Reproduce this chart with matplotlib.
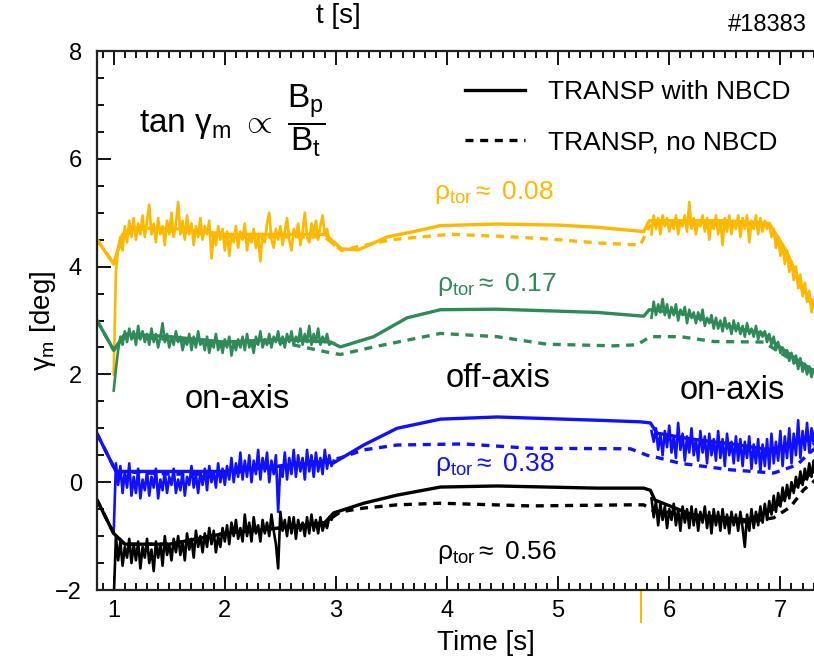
import numpy as np
import matplotlib
matplotlib.use("Agg")
import matplotlib.pyplot as plt

plt.rcParams['font.family'] = ['Liberation Sans', 'DejaVu Sans']
plt.rcParams['mathtext.fontset'] = 'custom'
plt.rcParams['mathtext.rm'] = 'Liberation Sans'
plt.rcParams['mathtext.it'] = 'Liberation Sans'
plt.rcParams['mathtext.sf'] = 'Liberation Sans'

ORANGE = '#ffb800'
GREEN = '#2e8b57'
BLUE = '#1010ff'
BLACK = '#000000'

# ---- TRANSP curves (smooth), time in s, gamma_m in deg ----
or_t = [0.85, 1.0, 1.08, 1.2, 1.6, 2.0, 2.5, 2.9, 3.05, 3.2, 3.46, 3.7, 3.94, 4.45, 5.0, 5.35, 5.77, 5.82, 5.9, 6.5, 6.9, 7.05, 7.2, 7.35]
or_nbcd = [4.5, 4.05, 4.6, 4.72, 4.7, 4.6, 4.6, 4.6, 4.33, 4.31, 4.55, 4.65, 4.76, 4.79, 4.77, 4.73, 4.65, 4.85, 4.85, 4.85, 4.8, 4.3, 3.6, 3.15]
or_td = [0.85, 1.0, 1.08, 1.2, 1.6, 2.0, 2.5, 2.9, 3.05, 3.2, 3.5, 4.03, 4.6, 5.0, 5.35, 5.74, 5.82, 5.9, 6.5, 6.9, 7.05, 7.2, 7.35]
or_nonbcd = [4.5, 4.05, 4.55, 4.7, 4.65, 4.55, 4.55, 4.55, 4.3, 4.37, 4.5, 4.6, 4.55, 4.5, 4.44, 4.4, 4.75, 4.8, 4.8, 4.75, 4.25, 3.55, 3.1]

gr_t = [0.85, 1.0, 1.1, 1.5, 2.0, 2.5, 2.95, 3.04, 3.34, 3.64, 3.94, 4.45, 5.35, 5.77, 5.82, 6.1, 6.55, 6.85, 7.0, 7.2, 7.35]
gr_nbcd = [3.0, 2.45, 2.75, 2.7, 2.6, 2.65, 2.6, 2.51, 2.7, 3.05, 3.2, 3.21, 3.15, 3.08, 3.2, 3.14, 2.88, 2.76, 2.5, 2.2, 2.0]
gr_td = [0.85, 1.0, 1.1, 1.5, 2.0, 2.5, 2.95, 3.04, 3.34, 3.94, 4.45, 4.9, 5.5, 5.71, 5.83, 6.1, 6.4, 6.85, 7.0, 7.2, 7.35]
gr_nonbcd = [3.0, 2.45, 2.7, 2.65, 2.55, 2.6, 2.4, 2.37, 2.51, 2.76, 2.7, 2.56, 2.53, 2.55, 2.7, 2.7, 2.61, 2.6, 2.4, 2.15, 1.95]

bl_t = [0.85, 1.02, 1.5, 2.0, 2.5, 2.9, 2.98, 3.25, 3.55, 3.94, 4.45, 5.35, 5.74, 5.83, 5.89, 6.2, 6.6, 6.9, 7.2, 7.35]
bl_nbcd = [0.9, 0.2, 0.2, 0.2, 0.3, 0.38, 0.36, 0.69, 1.0, 1.17, 1.21, 1.15, 1.12, 1.1, 0.91, 0.8, 0.7, 0.6, 0.75, 0.85]
bl_td = [0.85, 1.02, 1.5, 2.0, 2.5, 2.9, 3.04, 3.25, 3.55, 4.15, 4.75, 5.65, 5.8, 5.87, 6.1, 6.55, 6.94, 7.15, 7.24, 7.35]
bl_nonbcd = [0.9, 0.2, 0.15, 0.15, 0.3, 0.4, 0.45, 0.6, 0.69, 0.71, 0.63, 0.62, 0.5, 0.47, 0.35, 0.23, 0.17, 0.32, 0.5, 0.7]

bk_t = [0.85, 1.0, 1.1, 1.5, 2.0, 2.5, 2.9, 2.98, 3.25, 3.55, 3.94, 4.45, 5.35, 5.77, 5.83, 5.87, 6.2, 6.7, 6.94, 7.09, 7.24, 7.35]
bk_nbcd = [-0.33, -0.95, -1.15, -1.15, -0.95, -0.85, -0.75, -0.57, -0.39, -0.24, -0.09, -0.07, -0.11, -0.11, -0.15, -0.33, -0.6, -0.7, -0.5, -0.15, 0.1, 0.3]
bk_td = [0.85, 1.0, 1.1, 1.5, 2.0, 2.5, 2.9, 3.04, 3.25, 3.55, 3.94, 4.75, 5.65, 5.77, 5.85, 6.26, 6.7, 6.94, 7.09, 7.21, 7.35]
bk_nonbcd = [-0.33, -0.95, -1.15, -1.15, -0.95, -0.85, -0.75, -0.55, -0.48, -0.42, -0.39, -0.44, -0.42, -0.42, -0.52, -0.63, -0.74, -0.66, -0.46, -0.14, 0.1]

# ---- noisy traces during the on-axis phases (20 ms steps) ----
t_on1 = np.linspace(1.0, 2.98, 100)
t_on2 = np.linspace(5.84, 7.32, 75)

or_on1 = [2.0, 3.9, 4.35, 4.55, 4.3, 4.75, 4.45, 4.85, 4.55, 4.9,
          4.5, 4.8, 4.6, 4.95, 4.55, 4.85, 5.15, 4.6, 4.8, 4.45,
          4.9, 4.6, 4.75, 4.4, 4.85, 4.6, 5.0, 4.55, 4.8, 5.2,
          4.6, 4.85, 4.5, 4.95, 4.6, 4.8, 4.4, 4.75, 4.55, 4.9,
          4.5, 4.75, 4.6, 4.85, 4.15, 4.6, 4.4, 4.75, 4.5, 4.7,
          4.3, 4.65, 4.2, 4.6, 4.45, 4.75, 4.35, 4.65, 4.5, 4.8,
          4.3, 4.6, 4.45, 4.7, 4.35, 4.55, 4.1, 4.6, 4.45, 4.8,
          5.0, 4.5, 4.35, 4.7, 4.5, 4.75, 4.4, 4.65, 4.9, 4.5,
          4.3, 4.7, 4.55, 4.8, 4.4, 4.65, 5.0, 4.55, 4.45, 4.8,
          4.6, 4.85, 4.5, 4.75, 4.95, 4.6, 4.7, 4.5, 4.45, 4.4]
gr_on1 = [1.7, 2.1, 2.45, 2.7, 2.55, 2.8, 2.6, 2.85, 2.65, 2.8,
          2.55, 2.9, 2.65, 2.8, 2.6, 2.75, 2.55, 2.85, 2.6, 2.75,
          2.5, 2.7, 2.95, 2.6, 2.75, 2.5, 2.7, 2.55, 2.8, 2.6,
          2.7, 2.45, 2.65, 2.55, 2.75, 2.45, 2.7, 2.5, 2.8, 2.55,
          2.65, 2.45, 2.7, 2.4, 2.6, 2.5, 2.75, 2.45, 2.6, 2.4,
          2.65, 2.5, 2.7, 2.35, 2.6, 2.45, 2.65, 2.5, 2.7, 2.45,
          2.75, 2.5, 2.6, 2.4, 2.7, 2.55, 2.8, 2.5, 2.65, 2.55,
          2.75, 2.5, 2.7, 2.6, 2.8, 2.55, 2.7, 2.5, 2.75, 2.6,
          2.8, 2.55, 2.7, 2.6, 2.85, 2.55, 2.75, 2.6, 2.9, 2.55,
          2.75, 2.6, 2.85, 2.55, 2.7, 2.6, 2.75, 2.55, 2.6, 2.58]
bl_on1 = [-0.95, 0.35, -0.05, 0.3, -0.2, 0.2, -0.1, 0.35, -0.25, 0.1,
          -0.2, 0.25, -0.3, 0.05, -0.15, 0.2, -0.25, 0.1, -0.1, 0.25,
          -0.3, 0.05, -0.15, 0.2, -0.2, 0.1, -0.05, 0.25, -0.2, 0.05,
          -0.15, 0.2, -0.25, 0.1, -0.05, 0.3, -0.1, 0.15, -0.2, 0.2,
          -0.05, 0.25, -0.15, 0.3, 0.0, 0.2, -0.1, 0.35, 0.0, 0.25,
          -0.05, 0.3, 0.05, 0.45, 0.0, 0.35, 0.1, 0.55, 0.05, 0.4,
          0.1, 0.5, 0.0, 0.4, 0.15, 0.6, 0.05, 0.45, 0.2, 0.55,
          0.0, 0.4, 0.15, 0.5, -0.55, 0.3, 0.1, 0.55, 0.05, 0.45,
          0.15, 0.6, 0.1, 0.5, 0.2, 0.45, 0.05, 0.6, 0.2, 0.5,
          0.1, 0.55, 0.2, 0.45, 0.15, 0.6, 0.25, 0.5, 0.3, 0.4]
bk_on1 = [-2.2, -1.0, -1.45, -1.1, -1.55, -1.2, -1.4, -1.05, -1.5, -1.15,
          -1.45, -1.1, -1.6, -1.2, -1.4, -1.05, -1.5, -1.25, -1.65, -1.1,
          -1.4, -1.15, -1.55, -1.0, -1.35, -1.15, -1.45, -1.05, -1.3, -1.0,
          -1.35, -1.1, -1.45, -0.95, -1.25, -1.05, -1.4, -0.9, -1.2, -1.0,
          -1.3, -0.95, -1.2, -0.85, -1.15, -0.9, -1.3, -1.0, -1.2, -0.85,
          -1.1, -0.8, -1.15, -0.75, -1.0, -0.7, -1.05, -0.85, -1.1, -0.6,
          -1.0, -0.75, -1.1, -0.65, -0.95, -0.8, -1.1, -0.7, -0.95, -0.75,
          -1.0, -0.6, -0.9, -1.15, -1.6, -0.55, -0.9, -0.7, -1.0, -0.65,
          -0.95, -0.65, -1.05, -0.7, -0.9, -0.75, -1.0, -0.65, -0.95, -0.6,
          -0.9, -0.7, -0.95, -0.65, -0.9, -0.75, -0.85, -0.65, -0.7, -0.6]

or_on2 = [4.6, 4.95, 4.7, 4.9, 4.6, 4.95, 4.75, 4.9, 4.65, 4.85,
          4.7, 4.95, 4.6, 4.85, 4.75, 4.95, 4.65, 5.2, 4.7, 4.9,
          4.6, 4.85, 4.75, 4.95, 4.65, 4.9, 4.5, 4.85, 4.7, 4.95,
          4.6, 4.85, 4.4, 4.9, 4.65, 4.95, 4.6, 4.85, 4.7, 4.95,
          4.55, 4.9, 4.7, 4.95, 4.45, 4.85, 4.7, 4.95, 4.6, 4.9,
          4.65, 4.85, 4.7, 4.8, 4.55, 4.7, 4.35, 4.55, 4.2, 4.4,
          4.05, 4.3, 3.9, 4.1, 3.75, 4.0, 3.6, 3.85, 3.45, 3.7,
          3.35, 3.55, 3.15, 3.4, 3.1]
gr_on2 = [3.05, 3.35, 3.1, 3.3, 3.15, 3.4, 3.1, 3.3, 3.05, 3.25,
          3.1, 3.3, 3.0, 3.2, 3.1, 3.25, 2.95, 3.2, 3.05, 3.15,
          2.95, 3.15, 3.0, 3.2, 2.9, 3.05, 2.95, 3.1, 2.85, 3.05,
          2.85, 3.0, 2.8, 3.05, 2.85, 2.95, 2.75, 3.0, 2.8, 2.95,
          2.75, 2.9, 2.7, 2.95, 2.75, 2.85, 2.7, 2.9, 2.65, 2.8,
          2.7, 2.8, 2.6, 2.75, 2.55, 2.7, 2.45, 2.6, 2.4, 2.5,
          2.35, 2.45, 2.25, 2.4, 2.2, 2.35, 2.1, 2.3, 2.05, 2.2,
          2.0, 2.15, 1.95, 2.1, 2.0]
bl_on2 = [0.95, 0.75, 1.0, 0.6, 0.9, 0.5, 0.95, 0.65, 1.05, 0.55,
          0.85, 0.45, 1.1, 0.6, 0.9, 0.4, 0.85, 0.55, 1.0, 0.5,
          0.8, 0.4, 0.95, 0.55, 0.85, 0.35, 0.9, 0.5, 0.8, 0.4,
          0.95, 0.45, 0.8, 0.3, 0.9, 0.5, 0.75, 0.35, 0.85, 0.4,
          0.8, 0.3, 0.75, 0.45, 0.85, 0.25, 0.7, 0.35, 0.8, 0.2,
          0.7, 0.3, 0.8, 0.25, 0.9, 0.35, 0.75, 0.4, 0.95, 0.3,
          0.85, 0.45, 1.0, 0.35, 0.9, 0.5, 1.15, 0.45, 0.95, 0.6,
          1.1, 0.55, 1.0, 0.7, 1.15]
bk_on2 = [-0.3, -0.65, -0.35, -0.8, -0.4, -0.7, -0.45, -0.85, -0.5, -0.7,
          -0.4, -0.8, -0.5, -0.9, -0.45, -0.75, -0.5, -0.85, -0.45, -0.8,
          -0.5, -0.9, -0.55, -0.75, -0.45, -0.85, -0.55, -0.95, -0.5, -0.8,
          -0.55, -0.9, -0.5, -0.85, -0.6, -0.95, -0.55, -0.8, -0.6, -0.9,
          -0.55, -0.85, -1.2, -0.6, -0.9, -0.5, -0.85, -0.55, -0.8, -0.45,
          -0.75, -0.4, -0.7, -0.35, -0.6, -0.25, -0.55, -0.2, -0.45, -0.1,
          -0.35, -0.05, -0.3, 0.0, -0.2, 0.1, -0.1, 0.2, -0.05, 0.25,
          0.05, 0.35, 0.1, 0.4, 0.2]

series = [
    (ORANGE, or_t, or_nbcd, or_td, or_nonbcd, or_on1, or_on2),
    (GREEN, gr_t, gr_nbcd, gr_td, gr_nonbcd, gr_on1, gr_on2),
    (BLUE, bl_t, bl_nbcd, bl_td, bl_nonbcd, bl_on1, bl_on2),
    (BLACK, bk_t, bk_nbcd, bk_td, bk_nonbcd, bk_on1, bk_on2),
]

fig = plt.figure(figsize=(8.14, 6.59), dpi=100)
ax = fig.add_axes([0.1192, 0.1047, 0.9214, 0.8179])

for color, ts, ys, td, yd, n1, n2 in series:
    h_solid, = ax.plot(ts, ys, color=color, lw=2.4, solid_joinstyle='round')
    h_dash, = ax.plot(td, yd, color=color, lw=2.4, ls=(0, (2.4, 2.0)))
    ax.plot(t_on1, n1, color=color, lw=1.9)
    ax.plot(t_on2, n2, color=color, lw=1.9)

ax.set_xlim(0.85, 7.6)
ax.set_ylim(-2, 8)
ax.set_xticks(range(1, 8))
ax.set_xticks(np.arange(0.9, 7.6, 0.1), minor=True)
ax.set_yticks(range(-2, 9, 2))
ax.set_yticks(np.arange(-2, 8.01, 0.5), minor=True)
ax.tick_params(which='both', direction='in', top=True, right=False, width=1.3, labelsize=17)
ax.tick_params(which='major', length=10)
ax.tick_params(which='minor', length=5)
ax.tick_params(axis='x', pad=7)
ax.tick_params(axis='y', pad=11)
for s in ax.spines.values():
    s.set_linewidth(1.6)
    s.set_color('#222222')

ax.set_xlabel('Time [s]', fontsize=20)
ax.xaxis.set_label_coords(0.519, -0.075)
ax.set_ylabel(r'$\gamma_{\rm m}$ [deg]', fontsize=20)
ax.yaxis.set_label_coords(-0.052, 0.5)

# on-axis marker below the time axis
ax.axvline(5.75, ymin=-0.06, ymax=-0.004, color=ORANGE, lw=1.5, clip_on=False)

fig.text(338 / 814, 1 - 29 / 659, 't [s]', fontsize=20, ha='center', va='bottom')
fig.text(728 / 814, 1 - 25 / 659, '#18383', fontsize=17, ha='left', va='center')

ax.text(1.23, 6.7, r'tan $\gamma_{\rm m}\ \propto\ \dfrac{\rm B_p}{\rm B_t}$', fontsize=24, va='center')

lab_kw = dict(fontsize=19, va='center', ha='left')
ax.text(3.88, 5.37, r'$\rho_{\rm tor}$$\approx$ 0.08', color=ORANGE, **lab_kw)
ax.text(3.91, 3.66, r'$\rho_{\rm tor}$$\approx$ 0.17', color=GREEN, **lab_kw)
ax.text(3.89, 0.32, r'$\rho_{\rm tor}$$\approx$ 0.38', color=BLUE, **lab_kw)
ax.text(3.91, -1.30, r'$\rho_{\rm tor}$$\approx$ 0.56', color=BLACK, **lab_kw)

ax.text(2.11, 1.53, 'on-axis', fontsize=23.5, ha='center', va='center')
ax.text(4.46, 1.93, 'off-axis', fontsize=23.5, ha='center', va='center')
ax.text(6.57, 1.71, 'on-axis', fontsize=23.5, ha='center', va='center')

ax.legend([h_solid, h_dash], ['TRANSP with NBCD', 'TRANSP, no NBCD'], frameon=False, fontsize=19,
          loc='upper left', bbox_to_anchor=(465 / 814, 1 - 80 / 659), bbox_transform=fig.transFigure,
          borderpad=0, borderaxespad=0, handlelength=2.27, handletextpad=0.87, labelspacing=1.0)

fig.savefig('out.png', dpi=100)
